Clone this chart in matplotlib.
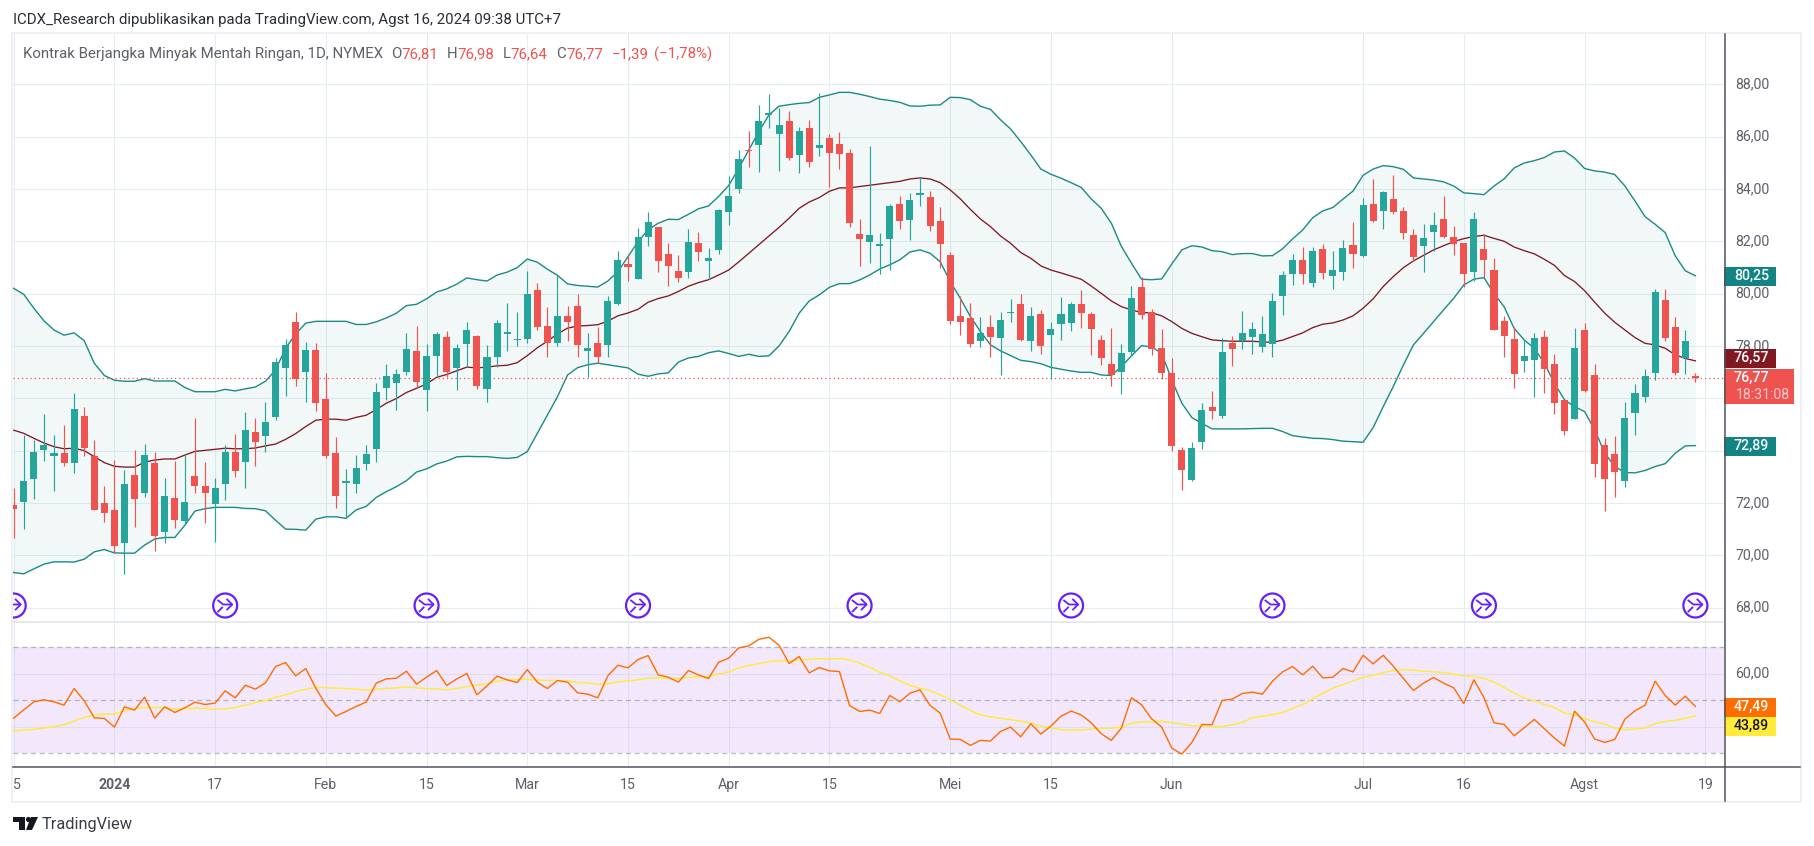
import numpy as np
import matplotlib
matplotlib.use("Agg")
import matplotlib.pyplot as plt
from matplotlib.patches import Rectangle, Circle, Polygon
from matplotlib.transforms import ScaledTranslation

plt.rcParams['font.family'] = ['Roboto', 'DejaVu Sans']

W, H = 1814, 846

# daily bars, first bar is index -10, index 0 is the first bar of 2024
opens = [
    71.92,72.05,72.93,74.02,73.79,73.91,73.54,75.32,73.79,71.99,
    71.73,70.48,73.07,72.39,73.53,70.90,72.19,71.32,73.03,72.65,
    71.97,72.73,73.95,73.58,74.71,74.57,75.30,77.14,78.92,77.02,
    77.85,75.97,73.91,72.77,72.73,73.50,74.07,76.41,76.60,77.02,
    77.81,76.33,77.63,78.35,77.14,78.09,78.39,76.37,77.59,78.47,
    78.21,78.28,80.15,78.77,78.13,79.15,79.53,77.79,78.12,78.05,
    79.61,81.13,80.57,82.18,82.55,81.52,80.87,80.84,81.94,81.26,
    81.68,83.13,84.01,85.45,85.66,86.83,86.08,86.60,85.31,86.33,
    85.58,85.95,85.72,85.38,82.28,81.99,81.83,82.10,83.43,82.83,
    83.78,83.69,82.78,81.48,79.15,79.07,78.17,78.73,78.32,79.24,
    79.61,78.17,79.22,78.43,78.82,78.89,79.61,79.22,78.23,77.31,
    77.02,77.78,80.25,79.30,77.92,76.97,74.03,72.89,74.31,75.67,
    75.34,78.11,78.19,78.34,77.94,78.09,79.92,80.73,81.29,80.42,
    81.71,80.69,80.84,81.86,81.45,83.43,83.17,83.62,83.16,82.24,
    81.80,82.37,82.85,82.17,81.93,80.84,81.71,80.90,78.96,78.27,
    77.44,77.48,78.34,77.31,75.94,75.22,78.61,76.89,74.22,73.87,
    72.82,75.45,76.03,76.98,79.76,78.73,77.52,76.81]
highs = [
    72.56,74.60,74.41,75.40,74.60,74.98,76.19,75.67,74.39,72.65,
    73.63,73.26,74.01,74.25,73.95,72.95,73.60,73.83,75.25,73.56,
    72.95,74.20,74.64,75.48,75.25,75.86,77.53,78.27,79.30,78.16,
    78.10,76.96,74.52,73.30,73.83,74.21,76.59,77.31,77.12,78.50,
    78.77,78.08,78.54,78.58,78.08,78.92,78.42,78.04,79.00,79.65,
    79.30,80.87,80.41,79.49,80.72,79.53,79.99,78.50,78.73,79.92,
    81.63,81.48,82.51,83.12,82.55,81.94,81.48,82.47,82.36,81.75,
    83.22,84.50,85.49,86.22,87.21,87.63,87.10,86.98,86.37,86.64,
    87.67,86.10,86.18,85.53,82.85,85.64,82.32,83.43,83.73,83.85,
    84.45,83.92,83.31,81.59,79.91,79.64,79.11,79.18,79.30,79.80,
    79.99,79.49,79.38,78.92,79.87,79.68,80.14,79.30,78.42,78.69,
    78.08,80.29,80.64,79.41,78.65,77.54,74.14,74.33,75.82,76.28,
    78.31,78.38,79.34,78.92,79.15,80.03,80.87,81.52,81.78,81.78,
    81.90,81.63,82.05,82.74,83.66,84.38,83.92,84.53,83.31,82.47,
    82.66,83.12,83.73,82.59,81.93,83.12,82.28,81.36,79.15,78.74,
    78.23,78.50,78.61,77.69,75.94,78.69,78.88,77.31,74.48,74.56,
    75.86,76.55,77.12,80.18,80.18,79.11,78.61,76.98]
lows = [
    70.67,71.01,72.16,73.61,72.47,73.42,73.16,73.81,71.74,71.28,
    70.09,69.29,71.09,72.24,70.17,70.48,71.05,71.19,72.39,71.24,
    70.52,72.11,73.00,72.58,73.42,73.95,75.17,76.09,76.45,75.87,
    75.53,73.72,71.82,71.42,72.39,73.26,73.58,75.95,75.57,76.89,
    76.41,75.53,76.83,76.83,76.33,77.21,76.37,75.87,77.21,77.82,
    77.98,78.10,78.59,77.56,78.00,78.17,77.59,76.83,77.36,77.59,
    79.57,80.50,80.57,81.82,80.84,80.29,80.46,80.61,81.26,80.55,
    81.53,82.62,83.86,84.85,84.66,86.34,84.70,85.12,84.59,84.85,
    85.27,84.09,84.78,82.56,81.07,81.15,80.73,80.92,82.45,82.03,
    83.36,82.41,80.96,78.85,78.43,77.97,77.94,77.59,76.90,78.93,
    78.17,77.82,77.71,76.73,78.24,78.57,78.70,77.67,77.29,76.45,
    76.18,77.63,79.01,77.67,76.73,74.00,72.51,72.85,74.08,75.21,
    75.26,77.24,77.89,77.69,77.75,77.59,79.18,80.31,80.37,80.27,
    80.56,80.19,80.53,80.98,81.41,82.75,82.48,83.06,82.10,81.26,
    80.83,81.64,82.14,81.49,80.27,80.50,80.64,78.62,77.59,76.41,
    77.02,76.06,76.22,75.38,74.61,75.22,76.25,73.01,71.71,72.24,
    72.62,74.61,75.87,76.71,78.20,76.87,76.94,76.64]
closes = [
    71.77,72.84,73.95,74.20,73.91,73.54,75.59,74.11,71.74,71.63,
    70.36,72.72,72.16,73.83,70.74,72.26,71.36,72.03,72.66,72.39,
    72.57,73.95,73.23,74.79,74.34,75.09,77.39,78.04,76.75,77.85,
    75.83,73.81,72.28,72.80,73.33,73.87,76.24,76.85,76.93,77.89,
    76.64,77.62,78.46,77.02,77.93,78.61,76.48,77.58,78.88,78.54,
    78.27,79.99,78.74,78.13,79.15,78.93,78.02,77.93,77.56,79.72,
    81.29,81.03,82.17,82.74,81.26,81.07,80.61,81.97,81.60,81.36,
    83.20,83.73,85.15,85.43,86.60,86.89,86.45,85.20,86.22,85.01,
    85.68,85.39,85.35,82.68,82.10,82.24,81.90,83.35,82.79,83.58,
    83.85,82.60,81.91,78.96,78.92,78.09,78.50,78.36,78.99,79.26,
    78.23,79.15,78.01,78.65,79.22,79.61,79.27,78.66,77.55,76.87,
    77.73,79.83,79.20,77.89,76.98,74.19,73.24,74.10,75.55,75.52,
    77.77,77.89,78.50,78.65,78.46,79.72,80.71,81.29,80.73,81.63,
    80.80,80.90,81.75,81.53,83.39,82.79,83.89,83.13,82.33,81.38,
    82.13,82.62,82.18,81.91,80.73,82.85,81.30,78.62,78.39,76.94,
    77.62,78.31,77.13,75.80,74.73,77.92,76.29,73.50,72.93,73.20,
    75.25,76.20,76.85,80.06,78.32,76.98,78.19,76.77]

# bollinger bands
bb_upper = [
    80.20,79.97,79.44,78.96,78.61,78.41,78.50,78.20,77.34,76.87,
    76.69,76.65,76.65,76.75,76.66,76.66,76.66,76.41,76.25,76.25,
    76.25,76.34,76.28,76.36,76.43,76.65,77.08,77.91,78.46,78.87,
    78.94,78.94,78.94,78.94,78.82,78.82,78.92,79.07,79.25,79.54,
    79.59,79.80,80.06,80.18,80.36,80.60,80.53,80.48,80.71,80.82,
    80.99,81.32,81.20,80.93,80.70,80.37,80.31,80.28,80.25,80.48,
    80.84,81.41,81.99,82.43,82.69,82.84,82.83,83.03,83.24,83.35,
    83.71,84.13,84.79,85.49,86.19,86.83,87.16,87.22,87.27,87.30,
    87.50,87.59,87.69,87.69,87.62,87.53,87.43,87.38,87.31,87.17,
    87.16,87.20,87.21,87.50,87.49,87.41,87.16,87.04,86.64,86.29,
    85.81,85.30,84.76,84.56,84.41,84.24,84.06,83.62,83.26,82.69,
    81.80,81.16,80.55,80.53,80.56,81.13,81.67,81.83,81.78,81.64,
    81.60,81.49,81.53,81.53,81.44,81.45,81.71,82.09,82.43,82.90,
    83.16,83.29,83.61,83.92,84.52,84.76,84.89,84.85,84.75,84.42,
    84.38,84.34,84.27,84.11,83.85,83.82,83.78,84.11,84.38,84.80,
    84.99,85.08,85.20,85.41,85.45,85.18,84.78,84.69,84.64,84.55,
    84.11,83.54,82.94,82.65,82.33,81.44,80.87,80.68]
bb_basis = [
    74.78,74.66,74.47,74.29,74.15,74.07,74.09,74.00,73.77,73.54,
    73.40,73.37,73.37,73.56,73.64,73.68,73.68,73.83,73.97,74.01,
    74.05,74.09,74.07,74.07,74.10,74.18,74.25,74.43,74.65,74.92,
    75.16,75.20,75.20,75.16,75.27,75.35,75.57,75.81,75.99,76.22,
    76.38,76.55,76.80,76.91,77.05,77.19,77.16,77.19,77.24,77.26,
    77.36,77.63,77.93,78.18,78.46,78.68,78.76,78.78,78.81,78.95,
    79.15,79.26,79.40,79.67,79.81,79.91,80.08,80.28,80.42,80.53,
    80.71,80.90,81.21,81.54,81.87,82.20,82.53,82.88,83.26,83.50,
    83.67,83.91,84.04,84.04,84.09,84.14,84.19,84.24,84.29,84.38,
    84.42,84.38,84.24,83.96,83.62,83.22,82.85,82.56,82.20,81.92,
    81.57,81.35,81.06,80.90,80.79,80.67,80.55,80.29,80.01,79.72,
    79.50,79.38,79.27,79.27,79.15,78.93,78.67,78.48,78.35,78.23,
    78.20,78.18,78.18,78.18,78.15,78.14,78.22,78.36,78.50,78.70,
    78.83,78.88,78.99,79.15,79.44,79.80,80.27,80.65,80.99,81.25,
    81.46,81.67,81.83,81.99,82.10,82.18,82.23,82.11,82.00,81.78,
    81.64,81.52,81.31,81.08,80.69,80.46,80.11,79.67,79.25,78.90,
    78.61,78.32,78.10,78.04,77.91,77.66,77.52,77.43]
bb_lower = [
    69.34,69.29,69.48,69.66,69.75,69.75,69.74,69.85,70.13,70.22,
    70.09,70.08,70.08,70.39,70.62,70.68,70.68,71.15,71.69,71.78,
    71.83,71.83,71.83,71.79,71.78,71.70,71.34,71.00,70.99,70.96,
    71.38,71.47,71.47,71.41,71.73,71.87,72.21,72.43,72.62,72.85,
    73.18,73.30,73.49,73.60,73.76,73.78,73.77,73.77,73.73,73.70,
    73.74,73.96,74.66,75.36,76.06,76.89,77.17,77.28,77.34,77.28,
    77.22,77.16,76.92,76.84,76.93,76.97,77.38,77.54,77.60,77.74,
    77.81,77.71,77.60,77.68,77.60,77.62,78.00,78.55,79.25,79.72,
    79.95,80.24,80.38,80.38,80.52,80.71,80.94,81.10,81.29,81.59,
    81.67,81.54,81.22,80.46,79.82,79.12,78.55,78.04,77.81,77.63,
    77.45,77.40,77.32,77.18,77.11,77.04,76.99,76.99,76.89,76.87,
    77.21,77.62,78.01,77.96,77.72,76.70,75.81,75.26,75.04,74.83,
    74.83,74.83,74.83,74.84,74.85,74.85,74.73,74.57,74.52,74.47,
    74.46,74.42,74.36,74.34,74.32,74.88,75.68,76.45,77.27,78.04,
    78.48,78.93,79.38,79.82,80.33,80.55,80.61,80.01,79.50,78.67,
    78.23,77.91,77.34,76.57,75.94,75.68,75.49,74.79,73.90,73.39,
    73.16,73.15,73.24,73.39,73.50,73.90,74.18,74.19]

# rsi and its moving average
rsi = [
    43.21,46.35,49.37,50.13,49.37,48.11,54.40,49.75,43.33,43.08,
    39.81,47.48,46.23,51.13,43.21,47.48,45.35,47.11,49.25,48.36,
    48.87,53.52,50.88,55.66,54.15,56.54,62.71,64.22,59.18,61.95,
    54.53,48.24,43.96,45.72,47.61,49.25,56.42,58.05,58.30,60.94,
    56.04,58.68,61.20,55.54,58.05,60.06,52.01,55.41,59.06,57.67,
    56.67,61.57,56.79,54.40,57.42,56.79,52.77,52.26,50.88,59.18,
    63.21,62.20,65.35,66.86,59.56,58.68,56.79,61.20,59.56,58.18,
    64.34,65.85,69.75,70.51,73.02,73.78,70.76,63.84,66.48,60.32,
    62.33,61.07,60.82,47.99,45.72,46.23,44.97,51.76,49.37,52.64,
    53.90,47.99,45.09,35.28,35.16,32.89,34.78,34.53,38.18,39.81,
    36.16,41.07,37.17,40.19,43.96,45.85,44.46,41.45,37.29,34.78,
    39.43,50.88,48.24,42.96,39.81,31.88,29.62,34.02,40.82,40.69,
    49.87,50.38,52.52,53.02,52.26,57.17,60.69,62.71,59.56,62.83,
    58.43,58.68,61.95,60.69,66.98,63.71,66.98,62.83,58.18,53.65,
    56.42,58.55,56.42,54.65,48.74,57.67,51.01,41.45,40.82,36.54,
    39.56,42.70,39.18,35.66,32.64,45.85,41.70,35.28,34.02,35.16,
    42.83,45.97,48.11,57.17,51.76,48.11,51.51,47.61]
rsi_ma = [
    38.43,38.68,38.93,39.43,39.94,40.69,42.07,43.46,44.34,44.72,
    44.72,46.10,46.86,47.23,47.23,47.11,46.73,46.86,46.98,46.86,
    46.48,46.73,47.23,48.11,49.12,49.87,51.13,52.01,53.15,54.15,
    54.78,54.78,54.53,54.40,54.15,53.77,54.15,54.40,54.65,55.03,
    54.65,54.28,54.28,53.90,54.40,55.16,55.66,56.16,57.17,57.67,
    57.80,57.93,57.55,57.42,57.42,57.30,56.67,56.54,56.04,56.20,
    56.92,57.30,57.67,58.30,58.43,58.30,58.18,58.68,58.81,58.93,
    59.94,60.69,62.20,63.08,63.84,64.59,64.84,64.84,65.10,65.47,
    65.73,65.60,65.73,65.22,63.96,62.45,60.57,59.18,57.30,55.66,
    54.53,53.52,52.01,50.13,48.11,46.10,44.46,43.71,43.08,42.70,
    42.07,41.32,40.19,39.56,38.80,38.68,38.68,39.06,39.31,39.43,
    39.81,41.32,41.70,41.82,42.07,41.45,40.94,40.31,40.31,39.94,
    40.06,40.69,41.57,43.33,43.96,44.46,45.35,46.86,48.36,50.50,
    52.64,54.53,55.91,57.30,58.68,59.31,60.44,61.20,61.57,61.32,
    60.94,60.69,60.44,59.81,59.06,59.06,58.18,56.79,54.78,52.64,
    50.88,49.75,48.36,47.23,45.09,44.46,42.96,41.82,40.94,39.43,
    38.80,39.06,39.56,41.07,41.95,42.33,43.21,44.09]

# bars that carry the purple session mark
mark_bars = [-10, 11, 31, 52, 74, 95, 115, 136, 157]

time_ticks = [-10, 0, 10, 21, 31, 41, 51, 61, 71, 83, 93, 105, 124, 134, 146, 158]
time_labels = ["15", "2024", "17", "Feb", "15", "Mar", "15", "Apr", "15", "Mei", "15",
               "Jun", "Jul", "16", "Agst", "19"]
price_ticks = [68, 70, 72, 74, 76, 78, 80, 82, 84, 86, 88]
# 74 and 76 sit under the value labels in the picture
price_labels = ["68,00", "70,00", "72,00", "", "", "78,00", "80,00", "82,00", "84,00", "86,00", "88,00"]
rsi_ticks = [40, 60]
rsi_levels = [70, 50, 30]
last_price = 76.77

GREEN = "#26a69a"
RED = "#ef5350"
TEAL = "#1a8a87"
DARK_RED = "#801922"
GRID = "#e6edf2"
AXIS = "#50535e"
TXT = "#5d606b"
BORDER = "#eef0f5"
PURPLE = "#651fff"
FS = 10.8

bars = np.arange(-10, 158)
x0, x1 = -10.07, 159.84


def pane(top, bottom, left=13, right=1724):
    return [left / W, 1 - bottom / H, (right - left) / W, (bottom - top) / H]


fig = plt.figure(figsize=(W / 100, H / 100), dpi=100, facecolor="white")
ax = fig.add_axes(pane(34, 622))
ax2 = fig.add_axes(pane(622, 767))

# price pane
ax.set_xlim(x0, x1)
ax.set_ylim(67.45, 89.92)
for t in price_ticks:
    ax.axhline(t, color=GRID, lw=0.8, zorder=1)
for t in time_ticks:
    ax.axvline(t, color=GRID, lw=0.8, zorder=1)

ax.fill_between(bars, bb_lower, bb_upper, color="#00897b", alpha=0.05, lw=0, zorder=2)
ax.plot(bars, bb_upper, color=TEAL, lw=1.0, zorder=3)
ax.plot(bars, bb_lower, color=TEAL, lw=1.0, zorder=3)
ax.plot(bars, bb_basis, color=DARK_RED, lw=0.95, zorder=3)
ax.axhline(last_price, color=RED, lw=0.9, ls=(0, (1, 2.4)), zorder=3)

o = np.array(opens)
c = np.array(closes)
colors = [GREEN if up else RED for up in c >= o]
ax.vlines(bars, lows, highs, colors=colors, lw=0.85, zorder=4)
body = np.abs(c - o)
ax.bar(bars, np.maximum(body, 0.07), bottom=np.minimum(o, c), width=0.7, color=colors, lw=0, zorder=5)

ax.yaxis.tick_right()
ax.set_yticks(price_ticks)
ax.set_yticklabels(price_labels)
ax.set_xticks([])

# rsi pane
ax2.set_xlim(x0, x1)
ax2.set_ylim(24.72, 79.55)
ax2.axhspan(30, 70, color="#f3e7fc", lw=0, zorder=1)
for t in rsi_ticks:
    ax2.axhline(t, color="#dddcf0", lw=0.8, zorder=2)
ax2.vlines(time_ticks, 70, 79.55, color=GRID, lw=0.8, zorder=2)
ax2.vlines(time_ticks, 30, 70, color="#dddcf0", lw=0.8, zorder=2)
ax2.vlines(time_ticks, 24.72, 30, color=GRID, lw=0.8, zorder=2)
for t in rsi_levels:
    ax2.axhline(t, color="#787b86", alpha=0.5, lw=0.9, ls=(0, (4, 3)), zorder=2)
ax2.plot(bars, rsi_ma, color="#ffeb3b", lw=1.05, zorder=3)
ax2.plot(bars, rsi, color="#ff6d00", lw=1.0, zorder=4)

ax2.yaxis.tick_right()
ax2.set_yticks(rsi_ticks[1:])
ax2.set_yticklabels(["60,00"])
ax2.set_xticks(time_ticks)
ax2.set_xticklabels(time_labels)
ax2.get_xticklabels()[1].set_fontweight("bold")
ax2.get_xticklabels()[1].set_color("#3a3d48")

up_shift = ScaledTranslation(0, 1.5 / 100, fig.dpi_scale_trans)
for a in (ax, ax2):
    a.tick_params(axis="both", length=0, labelsize=10.2, labelcolor=TXT)
    a.tick_params(axis="y", pad=8)
    a.tick_params(axis="x", pad=8)
    a.set_facecolor("white")
    for s in a.spines.values():
        s.set_visible(False)
    for tl in a.get_yticklabels():
        tl.set_transform(tl.get_transform() + up_shift)

# overlay in image pixels, for frame, labels and header
ov = fig.add_axes([0, 0, 1, 1])
ov.set_xlim(0, W)
ov.set_ylim(H, 0)
ov.axis("off")
ov.patch.set_alpha(0)

ov.add_patch(Rectangle((0, 770), 11, 30, color="white", lw=0))
for (rx, ry, rw, rh) in [(11, 32, 2, 771), (11, 32, 1790, 2), (11, 801, 1790, 2), (1800, 32, 2, 771)]:
    ov.add_patch(Rectangle((rx, ry), rw, rh, color=BORDER, lw=0))
ov.plot([13, 1724], [622.5, 622.5], color="#e0e3eb", lw=1.1)
ov.plot([13, 1800], [767.5, 767.5], color=AXIS, lw=1.1)
ov.plot([1724.5, 1724.5], [34, 801], color=AXIS, lw=1.1)


def label(ty, text, bg, fg="white", rect_w=52, rect_h=19):
    ov.add_patch(Rectangle((1724, ty - rect_h / 2), rect_w, rect_h, color=bg, lw=0))
    ov.text(1769, ty - 0.5, text, color=fg, fontsize=10.2, ha="right", va="center", fontweight="medium")


label(276.3, "80,25", "#138484")
label(358.3, "76,57", DARK_RED)
label(446.5, "72,89", "#138484")
label(707.5, "47,49", "#ff6d00")
label(726.5, "43,89", "#ffeb3b", fg="#131722")
ov.add_patch(Rectangle((1724, 369), 70, 35, color=RED, lw=0))
ov.text(1769, 377.5, "76,77", color="white", fontsize=10.2, ha="right", va="center", fontweight="medium")
ov.text(1736, 395, "18:31:08", color="#ffc9c8", fontsize=10.2, ha="left", va="center")

# session marks on the price pane, clipped by hand at the left edge
clip = Rectangle((13, 34), 1711, 588, transform=ov.transData)
for b in mark_bars:
    cx = 114.4 + 10.07 * b
    cy = 605.5
    circ = Circle((cx, cy), 12, fc="white", ec=PURPLE, lw=1.6, zorder=6)
    ov.add_patch(circ)
    circ.set_clip_path(clip)
    for xs, ys in [([cx - 7, cx - 2, cx + 6.5], [cy - 5, cy - 1, cy - 1]),
                   ([cx + 2, cx + 7, cx + 2], [cy - 6, cy - 1, cy + 4]),
                   ([cx - 7, cx - 3], [cy + 6, cy + 2])]:
        ln, = ov.plot(xs, ys, color=PURPLE, lw=1.3, zorder=7)
        ln.set_clip_path(clip)

# header text
ov.text(13, 20, "ICDX_Research dipublikasikan pada TradingView.com, Agst 16, 2024 09:38 UTC+7",
        color="#2a2e39", fontsize=FS, va="center")
ov.text(23, 54, "Kontrak Berjangka Minyak Mentah Ringan, 1D, NYMEX", color=TXT, fontsize=FS, va="center")
for hx, letter, hv, vx in [(391, "O", "76,81", 401), (447, "H", "76,98", 457),
                           (503, "L", "76,64", 510.5), (556.5, "C", "76,77", 566)]:
    ov.text(hx, 54, letter, color=TXT, fontsize=FS, va="center")
    ov.text(vx, 54, hv, color=RED, fontsize=FS, va="center")
ov.text(611.5, 54, "\u22121,39", color=RED, fontsize=FS, va="center")
ov.text(654, 54, "(\u22121,78%)", color=RED, fontsize=FS, va="center")

# logo
ov.add_patch(Polygon([(13, 817), (25, 817), (25, 830), (19, 830), (19, 822), (13, 822)], color="#131722", lw=0))
ov.add_patch(Circle((28.5, 819.5), 2.6, color="#131722", lw=0))
ov.add_patch(Polygon([(31, 817), (38, 817), (32, 830), (26, 830)], color="#131722", lw=0))
ov.text(42, 824, "TradingView", color="#3a3d48", fontsize=11.8, va="center")

fig.savefig("out.png", dpi=100, facecolor="white")
